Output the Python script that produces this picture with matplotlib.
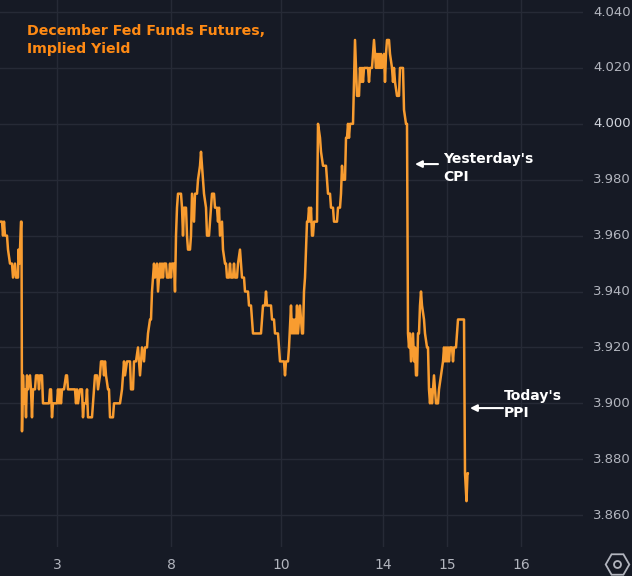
import matplotlib
matplotlib.use("Agg")
import matplotlib.pyplot as plt
from matplotlib.lines import Line2D

# ---------------- data ----------------
bar_index = [
    0, 2, 3, 4, 5, 7, 8, 10, 12, 13, 15, 16, 18, 18.5, 19.5, 21, 21.5, 22,
    23, 24, 25, 26, 27, 28, 30, 31, 32, 33, 35, 36, 38, 39, 40, 42, 43, 49, 50, 51, 52, 53,
    57, 58, 59, 60, 61, 62, 64, 66, 67, 68, 75, 76, 77, 78, 80, 82, 83, 84, 86, 87, 88, 92,
    93, 95, 97, 98, 100, 101, 103, 104, 105, 106, 108, 109, 110, 113, 114, 120, 122, 124,
    125, 127, 130, 131, 133, 134, 136, 138, 140, 142, 144, 145, 147, 148, 150, 151, 152,
    153, 154, 155, 157, 158, 159, 160, 161, 162, 163, 164, 166, 167, 169, 170, 171, 172, 174,
    175, 176, 177, 178, 181, 182, 183, 184, 186, 187, 188, 190, 191, 192, 194, 195, 197, 198,
    200, 201, 202, 203, 204, 206, 207, 209, 210, 212, 214, 215, 217, 218, 219, 220, 222, 223,
    225, 226, 227, 229, 230, 231, 233, 234, 235, 237,
    238, 240, 241, 242, 244, 245, 248, 249, 251, 252, 253, 261, 262, 263, 265, 266, 267, 271,
    272, 274, 275, 278, 279, 280, 284, 285, 286, 288, 289, 291, 292, 293, 294, 295, 296, 297,
    298, 300, 301, 302, 303, 304, 305, 306, 307, 308, 309, 310, 311, 312, 313, 314, 317, 318,
    320, 321, 323, 326, 327, 328, 330, 331, 333, 334, 337, 338, 340, 341, 342, 343, 345, 346,
    347, 348, 349, 350, 353, 355, 356, 357, 359, 360, 361, 362, 363, 364, 368, 369, 370, 372,
    374, 375, 376, 377, 378, 379, 380, 381, 382, 384, 385, 386, 387, 389, 390, 392, 393, 394,
    395, 397, 399, 400, 403, 404, 406, 407,
    408, 409, 410, 411, 412, 413, 414, 415, 416, 417, 418, 419, 420, 421, 422, 424, 425, 427,
    428, 429, 430, 431, 432, 433, 434, 435, 436, 438, 439, 441, 443, 444, 445, 446, 447, 448,
    449, 450, 452, 453, 454, 456, 457, 458, 464, 465, 466.5, 467.5, 468,
]
implied_yield = [
    3.965, 3.965, 3.960, 3.965, 3.960, 3.960, 3.955, 3.950, 3.950, 3.945, 3.950, 3.945, 3.945, 3.955, 3.950, 3.965, 3.965, 3.890,
    3.910, 3.900, 3.905, 3.895, 3.910, 3.905, 3.910, 3.905, 3.895, 3.905, 3.905, 3.910, 3.910, 3.905, 3.910, 3.910, 3.900, 3.900, 3.905, 3.905, 3.895, 3.900,
    3.900, 3.905, 3.900, 3.905, 3.900, 3.905, 3.905, 3.910, 3.910, 3.905, 3.905, 3.900, 3.905, 3.900, 3.905, 3.905, 3.895, 3.900, 3.900, 3.905, 3.895, 3.895,
    3.900, 3.910, 3.910, 3.905, 3.910, 3.915, 3.915, 3.910, 3.915, 3.910, 3.905, 3.905, 3.895, 3.895, 3.900, 3.900, 3.905, 3.915,
    3.910, 3.915, 3.915, 3.905, 3.905, 3.915, 3.915, 3.920, 3.910, 3.920, 3.915, 3.920, 3.920, 3.925, 3.930, 3.930, 3.940,
    3.945, 3.950, 3.945, 3.950, 3.940, 3.945, 3.950, 3.945, 3.950, 3.945, 3.950, 3.950, 3.945, 3.945, 3.950, 3.945, 3.950, 3.950,
    3.940, 3.960, 3.970, 3.975, 3.975, 3.970, 3.960, 3.970, 3.970, 3.960, 3.955, 3.955, 3.960, 3.975, 3.965, 3.975, 3.975, 3.980,
    3.985, 3.990, 3.985, 3.980, 3.975, 3.970, 3.960, 3.960, 3.965, 3.975, 3.975, 3.970, 3.970, 3.965, 3.970, 3.960, 3.965, 3.955,
    3.950, 3.950, 3.945, 3.945, 3.950, 3.945, 3.945, 3.950, 3.945, 3.945,
    3.950, 3.955, 3.950, 3.945, 3.945, 3.940, 3.940, 3.935, 3.935, 3.930, 3.925, 3.925, 3.930, 3.935, 3.935, 3.940, 3.935, 3.935,
    3.930, 3.930, 3.925, 3.925, 3.920, 3.915, 3.915, 3.910, 3.915, 3.915, 3.920, 3.935, 3.925, 3.930, 3.925, 3.930, 3.925, 3.935,
    3.925, 3.935, 3.930, 3.925, 3.925, 3.940, 3.945, 3.955, 3.965, 3.965, 3.970, 3.965, 3.970, 3.960, 3.960, 3.965, 3.965, 4.000,
    3.995, 3.990, 3.985, 3.985, 3.980, 3.975, 3.975, 3.970, 3.970, 3.965, 3.965, 3.970, 3.970, 3.975, 3.985, 3.980, 3.980, 3.995,
    3.995, 4.000, 3.995, 4.000, 4.000, 4.030, 4.020, 4.010, 4.010, 4.020, 4.015, 4.020, 4.015, 4.020, 4.020, 4.015, 4.020, 4.020,
    4.030, 4.025, 4.020, 4.025, 4.020, 4.025, 4.020, 4.025, 4.020, 4.025, 4.015, 4.025, 4.030, 4.030, 4.025, 4.020, 4.015, 4.020,
    4.015, 4.010, 4.010, 4.020, 4.020, 4.005, 4.000, 4.000,
    3.925, 3.920, 3.925, 3.915, 3.920, 3.925, 3.915, 3.920, 3.910, 3.910, 3.925, 3.925, 3.935, 3.940, 3.935, 3.930, 3.925, 3.920,
    3.920, 3.905, 3.900, 3.905, 3.900, 3.905, 3.910, 3.905, 3.900, 3.900, 3.905, 3.910, 3.915, 3.920, 3.915, 3.920, 3.915, 3.920,
    3.915, 3.920, 3.920, 3.915, 3.920, 3.920, 3.925, 3.930, 3.930, 3.875, 3.865, 3.875, 3.875,
]

x_tick_pos = [57, 171, 281, 383, 447, 521]
x_tick_labels = ["3", "8", "10", "14", "15", "16"]
y_ticks = [3.860, 3.880, 3.900, 3.920, 3.940, 3.960, 3.980, 4.000, 4.020, 4.040]

title_text = "December Fed Funds Futures,\nImplied Yield"
cpi_text = "Yesterday's\nCPI"
ppi_text = "Today's\nPPI"

# ---------------- style ----------------
BG = "#161a25"
GRID = "#262a36"
LINE = "#f89c30"
TITLE = "#ff8a14"
TICK = "#b2b5be"

W, H = 632, 576
fig = plt.figure(figsize=(W / 100, H / 100), dpi=100, facecolor=BG)
ax = fig.add_axes([0, (H - 547) / H, 583 / W, 547 / H], facecolor=BG)

ax.plot(bar_index, implied_yield, color=LINE, lw=1.8,
        solid_joinstyle="round", solid_capstyle="round", zorder=3)

ax.set_xlim(0, 583)
ax.set_ylim(3.8486, 4.0443)

for s in ax.spines.values():
    s.set_visible(False)

ax.set_xticks(x_tick_pos)
ax.set_xticklabels([])
ax.set_yticks(y_ticks)
ax.set_yticklabels([])
ax.tick_params(length=0)
ax.grid(True, color=GRID, lw=1.0, zorder=0)

# y tick labels (right side)
for v in y_ticks:
    col = "#d1d4dc" if abs(v - 4.0) < 1e-9 else TICK
    ax.annotate(f"{v:.3f}", xy=(1, v), xycoords=("axes fraction", "data"),
                xytext=(10, 0), textcoords="offset pixels",
                ha="left", va="center", fontsize=9.5, color=col,
                annotation_clip=False)

# x tick labels
for p, lab in zip(x_tick_pos, x_tick_labels):
    ax.annotate(lab, xy=(p, 0), xycoords=("data", "axes fraction"),
                xytext=(0, -18), textcoords="offset pixels",
                ha="center", va="center", fontsize=10, color=TICK,
                annotation_clip=False)

# title
fig.text(27 / W, 1 - 24 / H, title_text, ha="left", va="top",
         fontsize=10.2, fontweight="bold", color=TITLE, linespacing=1.35)

# annotations
ax.annotate("", xy=(415, 3.9856), xytext=(438, 3.9856),
            arrowprops=dict(arrowstyle="-|>", color="white", lw=1.5,
                            mutation_scale=10, shrinkA=0, shrinkB=0))
ax.text(443, 3.9842, cpi_text, ha="left", va="center", fontsize=10,
        fontweight="bold", color="white", linespacing=1.3)

ax.annotate("", xy=(470, 3.8983), xytext=(503, 3.8983),
            arrowprops=dict(arrowstyle="-|>", color="white", lw=1.5,
                            mutation_scale=10, shrinkA=0, shrinkB=0))
ax.text(504, 3.8997, ppi_text, ha="left", va="center", fontsize=10,
        fontweight="bold", color="white", linespacing=1.3)

# settings icon bottom-right
fig.add_artist(Line2D([617 / W], [1 - 564 / H], transform=fig.transFigure,
                      marker="H", markersize=17, markerfacecolor="none",
                      markeredgecolor=TICK, markeredgewidth=1.3, linestyle="none"))
fig.add_artist(Line2D([617 / W], [1 - 564 / H], transform=fig.transFigure,
                      marker="o", markersize=5, markerfacecolor="none",
                      markeredgecolor=TICK, markeredgewidth=1.3, linestyle="none"))

fig.savefig("out.png", dpi=100, facecolor=BG)
